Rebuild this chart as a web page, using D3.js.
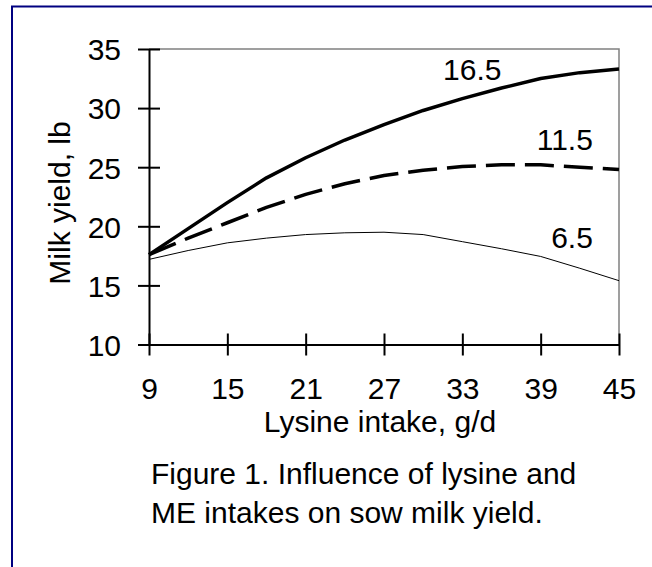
<!DOCTYPE html>
<html>
<head>
<meta charset="utf-8">
<script src="https://cdn.jsdelivr.net/npm/d3@7"></script>
<style>
  html, body { margin: 0; padding: 0; background: #fff; }
  svg { display: block; }
  text { font-family: Arial, "Liberation Sans", sans-serif; fill: #000; }
</style>
</head>
<body>
<svg id="chart" width="652" height="567"></svg>
<script>
// ---- data ----
const lysine = [9, 12, 15, 18, 21, 24, 27, 30, 33, 36, 39, 42, 45];
const me165 = [17.6, 19.8, 22.0, 24.1, 25.8, 27.3, 28.6, 29.8, 30.8, 31.7, 32.5, 33.0, 33.3];
const me115 = [17.6, 19.0, 20.3, 21.6, 22.7, 23.6, 24.3, 24.75, 25.05, 25.2, 25.2, 25.0, 24.8];
const me65  = [17.2, 17.95, 18.6, 19.0, 19.3, 19.45, 19.5, 19.3, 18.7, 18.1, 17.45, 16.45, 15.4];
const xTicks = [9, 15, 21, 27, 33, 39, 45];
const yTicks = [10, 15, 20, 25, 30, 35];
const seriesNames = ["16.5", "11.5", "6.5"];
// label anchor positions in data units (x = lysine, y = milk)
const labelX = [36.0, 43.0, 43.0];
const labelY = [32.4, 26.45, 18.2];
const xTitle = "Lysine intake, g/d";
const yTitle = "Milk yield, lb";
const caption = ["Figure 1. Influence of lysine and", "ME intakes on sow milk yield."];

// ---- layout ----
const svg = d3.select("#chart");
const L = 149, R = 619, T = 49, B = 344.5;
const x = d3.scaleLinear().domain([9, 45]).range([L, R]);
const y = d3.scaleLinear().domain([10, 35]).range([B, T]);

// outer navy frame (extends past the picture on right/bottom)
svg.append("rect").attr("x", 12).attr("y", 6.5).attr("width", 700).attr("height", 700)
  .attr("fill", "none").attr("stroke", "#000080").attr("stroke-width", 2);

// plot frame top/right
svg.append("path")
  .attr("d", `M${L},${T}H${R}V${B}`)
  .attr("fill", "none").attr("stroke", "#808080").attr("stroke-width", 1.5);

// y axis
const gy = svg.append("g").attr("transform", `translate(${L},0)`)
  .call(d3.axisLeft(y).tickValues(yTicks).tickFormat(d3.format("d")).tickSize(11).tickSizeOuter(0).tickPadding(17));
gy.select(".domain").attr("stroke", "#000").attr("stroke-width", 2);
gy.selectAll(".tick line").attr("x1", 11).attr("x2", -11).attr("stroke", "#000").attr("stroke-width", 2);
gy.selectAll(".tick text").attr("font-size", 30).attr("font-family", "Arial, 'Liberation Sans', sans-serif").attr("dy", "0.36em");

// x axis
const gx = svg.append("g").attr("transform", `translate(0,${B})`)
  .call(d3.axisBottom(x).tickValues(xTicks).tickFormat(d3.format("d")).tickSize(11).tickSizeOuter(0).tickPadding(22));
gx.select(".domain").attr("stroke", "#000").attr("stroke-width", 2);
gx.selectAll(".tick line").attr("y1", -11).attr("y2", 11).attr("stroke", "#000").attr("stroke-width", 2);
gx.selectAll(".tick text").attr("font-size", 30).attr("font-family", "Arial, 'Liberation Sans', sans-serif");

// lines
const series = [
  { name: seriesNames[0], vals: me165, width: 3.5, dash: null },
  { name: seriesNames[1], vals: me115, width: 3.5, dash: "29,10" },
  { name: seriesNames[2], vals: me65, width: 1, dash: null }
];
const line = d3.line().x((d, i) => x(lysine[i])).y(d => y(d));
series.forEach(s => {
  svg.append("path").datum(s.vals)
    .attr("d", line)
    .attr("fill", "none").attr("stroke", "#000")
    .attr("stroke-width", s.width)
    .attr("stroke-linejoin", "round")
    .attr("stroke-dasharray", s.dash);
});

// series labels
seriesNames.forEach((n, i) => {
  svg.append("text").attr("x", x(labelX[i])).attr("y", y(labelY[i]))
    .attr("text-anchor", "end").attr("font-size", 30).text(n);
});

// axis titles
svg.append("text").attr("x", 380).attr("y", 432).attr("text-anchor", "middle")
  .attr("font-size", 30).text(xTitle);
svg.append("text").attr("transform", "translate(70,203) rotate(-90)")
  .attr("text-anchor", "middle").attr("font-size", 30).text(yTitle);

// caption
caption.forEach((c, i) => {
  svg.append("text").attr("x", 151).attr("y", 484 + i * 39)
    .attr("font-size", 30).text(c);
});
</script>
</body>
</html>
